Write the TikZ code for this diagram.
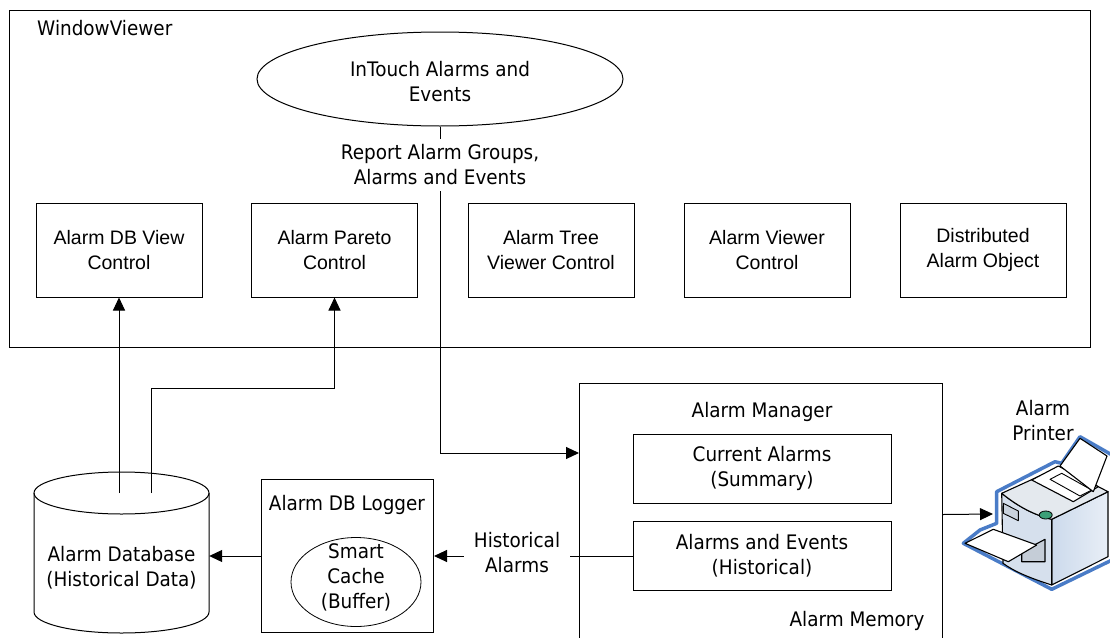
\documentclass[tikz,border=0pt]{standalone}
\usepackage{fontspec}
\setmainfont{DejaVu Sans}[FakeStretch=0.92]
\newfontfamily\arialf{Liberation Sans}
\usetikzlibrary{arrows.meta,shapes.geometric}

\definecolor{prblue}{RGB}{74,124,199}
\definecolor{prtop}{RGB}{228,233,238}
\definecolor{prfront}{RGB}{214,224,237}
\definecolor{prside}{RGB}{204,218,236}
\definecolor{prgreen}{RGB}{60,160,120}

\begin{document}
\begin{tikzpicture}[x=1pt,y=-1pt,
  lbl/.style={font=\fontsize{20}{25}\selectfont, align=center, inner sep=0pt},
  ctl/.style={draw, line width=1pt, minimum width=166pt, minimum height=94pt,
              font=\arialf\fontsize{19.5}{25}\selectfont, align=center, inner sep=0pt},
  box/.style={draw, line width=1pt, inner sep=0pt},
  inbox/.style={box, minimum width=258pt, minimum height=69pt,
                font=\fontsize{20}{25}\selectfont, align=center},
  arr/.style={line width=1pt, -{Triangle[length=13pt,width=12pt]}},
  pline/.style={line width=1.1pt, line join=round},
]
\useasboundingbox (0,0) rectangle (1110,637);

% ---------- WindowViewer ----------
\node[box, minimum width=1081pt, minimum height=337pt, anchor=north west] (wv) at (9,10) {};
\node[lbl, anchor=west] (wvt) at (37,28) {WindowViewer};

\node[draw, ellipse, line width=1pt, minimum width=366pt, minimum height=94pt, inner sep=0pt] (ite) at (440,79) {};
\node[lbl] (itet) at (440,82) {InTouch Alarms and\\Events};

\node[ctl] (dbv)  at (119,250)   {Alarm DB View\\Control};
\node[ctl] (par)  at (334.5,250) {Alarm Pareto\\Control};
\node[ctl] (tree) at (551,250)   {Alarm Tree\\Viewer Control};
\node[ctl] (view) at (767,250)   {Alarm Viewer\\Control};
\node[ctl] (dist) at (983,250)   {Distributed\\Alarm Object};

% ---------- Alarm Memory ----------
\node[box, minimum width=363pt, minimum height=262pt, anchor=north west] (am) at (579,383) {};
\node[lbl] (amt) at (762,412) {Alarm Manager};
\node[inbox] (cur)  at (762,468.5) {Current Alarms\\(Summary)};
\node[inbox] (hist) at (762,556)   {Alarms and Events\\(Historical)};
\node[lbl] (amem) at (857,621) {Alarm Memory};
\path (am.north west) ++(0,70) coordinate (amin);

% ---------- Alarm DB Logger ----------
\node[box, minimum width=172pt, minimum height=153pt, anchor=north west] (log) at (261,479) {};
\node[lbl] (logt) at (347,505) {Alarm DB Logger};
\node[draw, ellipse, line width=0.8pt, minimum width=130pt, minimum height=89pt, inner sep=0pt] (cache) at (356,582) {};
\node[lbl] (cachet) at (356,577) {Smart\\Cache\\(Buffer)};

% ---------- Alarm Database (cylinder) ----------
\node[minimum width=175pt, minimum height=161pt, inner sep=0pt] (db) at (121.5,552.5) {};
\draw[line width=1pt, fill=white] (34,493) -- (34,612)
  arc[start angle=180, end angle=360, x radius=87.5pt, y radius=21pt] -- (209,493);
\draw[line width=1pt] (121.5,493) ellipse [x radius=87.5pt, y radius=21pt];
\node[lbl] (dbt) at (121.5,568) {Alarm Database\\(Historical Data)};
\coordinate (db1) at (119,493);
\coordinate (db2) at (151,493);
\coordinate (bend) at (151,388);

% ---------- Connectors ----------
\draw[arr] (db1) -- (dbv.south);
\draw[arr] (db2) -- (bend) -| (par.south);
\draw[arr] (ite.south) |- (amin);
\node[lbl, fill=white, inner ysep=6pt, inner xsep=3pt] (rep) at (440,165)
  {Report Alarm Groups,\\Alarms and Events};
\draw[arr] (hist.west) -- (hist.west -| log.east);
\node[lbl, fill=white, inner xsep=10pt, inner ysep=2pt] (hal) at (517,553) {Historical\\Alarms};
\draw[arr] (log.west) -- (log.west -| db.east);
\coordinate (prn) at (993,514);
\draw[arr] (am.east) -- (prn);

% ---------- Alarm Printer ----------
\node[lbl] (prt) at (1043,421) {Alarm\\Printer};
\begin{scope}[line join=round]
  % blue silhouette
  \filldraw[fill=white, draw=prblue, line width=3.5pt]
    (1061.7,463.3) -- (1080,436.7) -- (1112,455) -- (1112,560) -- (1051.7,589.3)
    -- (1005,565) -- (963.3,543.3) -- (980,530) -- (996.7,523.3) -- (996.7,491.7)
    -- (1055,461.7) -- cycle;
  % right face
  \shade[left color=prside, right color=prside!45!white]
    (1051.7,519.3) -- (1108,491.7) -- (1108,556.7) -- (1051.7,585) -- cycle;
  \draw[pline] (1051.7,519.3) -- (1108,491.7) -- (1108,556.7) -- (1051.7,585) -- cycle;
  % front face
  \filldraw[pline, fill=prfront] (1001.7,493.3) .. controls (1020,508) and (1035,515) .. (1051.7,519.3)
    -- (1051.7,585) .. controls (1030,578) and (1015,572) .. (1003,563.3) -- cycle;
  % top face
  \filldraw[pline, fill=prtop] (1001.7,493.3) -- (1060,466.7) -- (1108,491.7) -- (1051.7,519.3)
    .. controls (1035,515) and (1020,508) .. (1001.7,493.3) -- cycle;
  % slot and button
  \filldraw[line width=0.9pt, fill=prfront!85!gray] (1003.3,503.3) -- (1018.3,511) -- (1018.3,520.7) -- (1003.3,513.3) -- cycle;
  \filldraw[line width=0.8pt, fill=prgreen] (1045.7,515) ellipse [x radius=6.5pt, y radius=4pt];
  % top output recess and sheet
  \filldraw[pline, fill=white] (1031.7,480) -- (1058.3,466) -- (1098.3,486.7) -- (1073.3,501.7) -- cycle;
  \draw[line width=0.9pt] (1050,479.3) -- (1061.7,473.3) -- (1091.7,490) -- (1080,496) -- cycle;
  \filldraw[pline, fill=white] (1060,466) -- (1080,438.3) -- (1107,456) -- (1093.3,491.7) -- cycle;
  % front output tray and sheet
  \filldraw[pline, fill=prfront!80!gray] (1021.7,551.7) -- (1045,539.3) -- (1045,561.7) -- (1021.7,561.7) -- cycle;
  \filldraw[pline, fill=white] (965,543.3) -- (993.3,529.3) -- (1036.7,545) -- (1008.3,561.7) -- cycle;
\end{scope}
\end{tikzpicture}
\end{document}
